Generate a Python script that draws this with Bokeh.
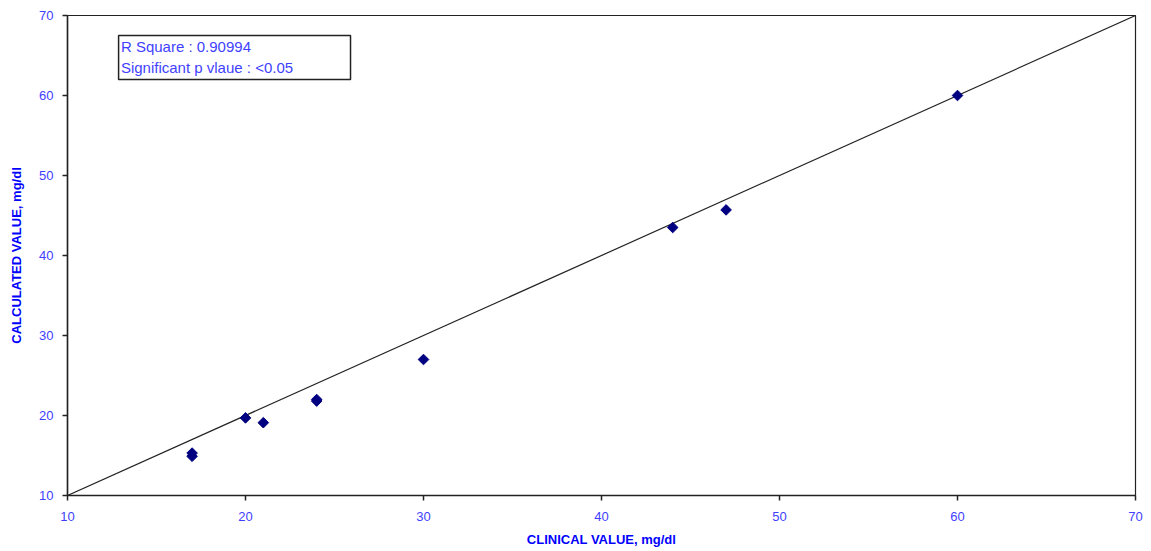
import numpy as np
from bokeh.plotting import figure
from bokeh.models import Label, FixedTicker, Range1d, BoxAnnotation
from bokeh.embed import file_html
from bokeh.resources import INLINE

# data
clinical = [17, 17, 20, 21, 24, 24, 30, 44, 47, 60]
calculated = [15.3, 14.9, 19.7, 19.1, 22.0, 21.8, 27.0, 43.5, 45.7, 60.0]
line_x = [10, 70]
line_y = [10, 70]
ticks = [10, 20, 30, 40, 50, 60, 70]

BLUE_TXT = "#3f3fff"

p = figure(width=1143, height=549, output_backend="svg", toolbar_location=None,
           x_range=Range1d(10, 70), y_range=Range1d(10, 70),
           min_border_left=67, min_border_right=8, min_border_top=15, min_border_bottom=48)
p.xgrid.visible = False
p.ygrid.visible = False
p.outline_line_color = "#222222"
p.outline_line_width = 1.2

p.line(line_x, line_y, line_color="#222222", line_width=1.2)
p.scatter(clinical, calculated, marker="square", angle=np.pi / 4, size=7.5, color="#000080")

for ax in (p.xaxis[0], p.yaxis[0]):
    ax.ticker = FixedTicker(ticks=ticks)
    ax.minor_tick_line_color = None
    ax.major_tick_out = 5
    ax.major_tick_in = 0
    ax.axis_line_color = "#222222"
    ax.axis_line_width = 1.5
    ax.major_tick_line_color = "#222222"
    ax.major_tick_line_width = 1.5
    ax.major_label_text_color = BLUE_TXT
    ax.major_label_text_font = "Liberation Sans"
    ax.major_label_text_font_size = "13px"
    ax.axis_label_text_color = "#0000ff"
    ax.axis_label_text_font = "Liberation Sans"
    ax.axis_label_text_font_style = "bold"
    ax.axis_label_text_font_size = "13px"

p.xaxis.axis_label = "CLINICAL VALUE, mg/dl"
p.yaxis.axis_label = "CALCULATED VALUE, mg/dl"
p.xaxis.major_label_standoff = 11
p.yaxis.major_label_standoff = 9
p.xaxis.axis_label_standoff = 8
p.yaxis.axis_label_standoff = 12

box = BoxAnnotation(left=12.87, right=25.9, top=67.5, bottom=62.0,
                    fill_color="white", fill_alpha=1.0,
                    line_color="#222222", line_alpha=1.0, line_width=1.5, level="annotation")
p.add_layout(box)

lab = Label(x=13.0, y=67.2, x_units="data", y_units="data",
            text="R Square : 0.90994\nSignificant p vlaue : <0.05",
            text_color=BLUE_TXT, text_font="Liberation Sans", text_font_size="15px",
            anchor="top_left", text_line_height=1.25)
p.add_layout(lab)

open("out.html", "w").write(file_html(p, INLINE))
